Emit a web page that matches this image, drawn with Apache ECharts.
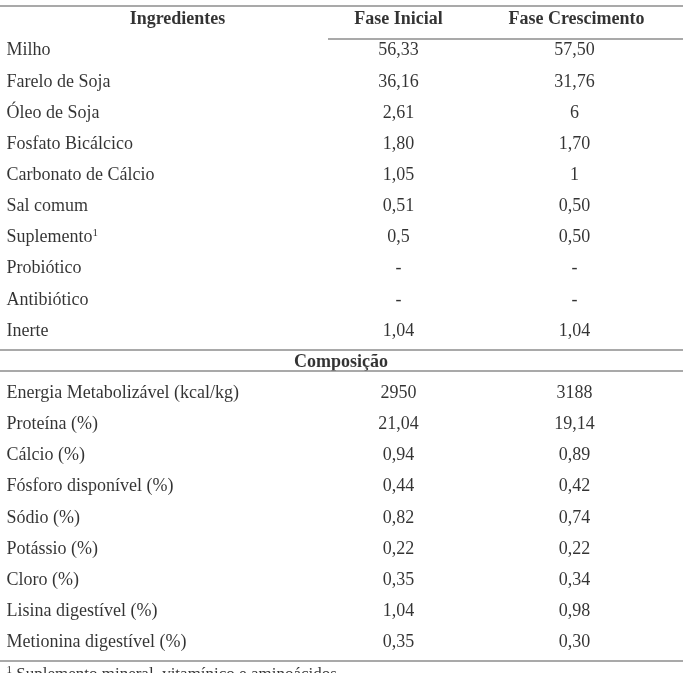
<!DOCTYPE html>
<html>
<head>
<meta charset="utf-8">
<script src="https://cdn.jsdelivr.net/npm/echarts@6/dist/echarts.min.js"></script>
<style>html,body{margin:0;padding:0;background:#fff}#c{width:683px;height:673px}</style>
</head>
<body>
<div id="c"></div>
<script>
// ---- data ----
var headers = ['Ingredientes', 'Fase Inicial', 'Fase Crescimento'];
var ingredientes = ['Milho','Farelo de Soja','Óleo de Soja','Fosfato Bicálcico','Carbonato de Cálcio','Sal comum','Suplemento{sup|1}','Probiótico','Antibiótico','Inerte'];
var ingInicial = ['56,33','36,16','2,61','1,80','1,05','0,51','0,5','-','-','1,04'];
var ingCrescimento = ['57,50','31,76','6','1,70','1','0,50','0,50','-','-','1,04'];
var secaoComposicao = 'Composição';
var composicao = ['Energia Metabolizável (kcal/kg)','Proteína (%)','Cálcio (%)','Fósforo disponível (%)','Sódio (%)','Potássio (%)','Cloro (%)','Lisina digestível (%)','Metionina digestível (%)'];
var compInicial = ['2950','21,04','0,94','0,44','0,82','0,22','0,35','1,04','0,35'];
var compCrescimento = ['3188','19,14','0,89','0,42','0,74','0,22','0,34','0,98','0,30'];
var nota = '{sup|1} Suplemento mineral, vitamínico e aminoácidos';

// ---- layout (not data) ----
var colX = [7, 399, 575];
var headerX = [178, 399, 577];
var midX = 341.5;
var pitch = 31.15;
var FONT = '"Liberation Serif", "Times New Roman", serif';
var FS = 18;

// build rows
var leftCol = [], midCol = [], rightCol = [], boldCells = [];
boldCells.push([headerX[0], 0, headers[0]]);
boldCells.push([headerX[1], 0, headers[1]]);
boldCells.push([headerX[2], 0, headers[2]]);
var r = 1;
ingredientes.forEach(function (n, i) {
  leftCol.push([colX[0], r, n]);
  midCol.push([colX[1], r, ingInicial[i]]);
  rightCol.push([colX[2], r, ingCrescimento[i]]);
  r++;
});
var compRow = r;
boldCells.push([midX, r, secaoComposicao]);
r++;
composicao.forEach(function (n, i) {
  leftCol.push([colX[0], r, n]);
  midCol.push([colX[1], r, compInicial[i]]);
  rightCol.push([colX[2], r, compCrescimento[i]]);
  r++;
});
var lastRow = r - 1;
var noteRow = lastRow + 1.02;

var rich = { sup: { fontSize: 11, fontFamily: FONT, color: '#000', padding: [0, 0, 8, 0] } };

function textSeries(data, align, bold, fs) {
  return {
    type: 'scatter', data: data, symbolSize: 1, clip: false,
    itemStyle: { color: 'rgba(0,0,0,0)' }, silent: true,
    label: {
      show: true, position: [0, 0], align: align, verticalAlign: 'middle',
      offset: [0, 2],
      color: '#000', fontFamily: FONT, fontSize: fs || FS,
      fontWeight: bold ? 'bold' : 'normal',
      formatter: function (p) { return p.value[2]; },
      rich: rich
    }
  };
}

var lineStyle = { color: '#8c8c8c', width: 1.6, type: 'solid' };
var rules = [
  { yAxis: -0.385 },
  [{ coord: [328, 0.67] }, { coord: [683, 0.67] }],
  { yAxis: compRow - 0.34 },
  { yAxis: compRow + 0.34 },
  { yAxis: lastRow + 0.64 }
];

var chart = echarts.init(document.getElementById('c'), null, { renderer: 'canvas' });
chart.setOption({
  animation: false,
  backgroundColor: '#fff',
  grid: { left: 0, right: 0, top: 18 - 0.5 * pitch, height: (lastRow + 1.3) * pitch, containLabel: false },
  xAxis: { type: 'value', min: 0, max: 683, show: false },
  yAxis: { type: 'value', min: -0.5, max: lastRow + 0.8, inverse: true, show: false },
  series: [
    textSeries(leftCol, 'left'),
    textSeries(midCol, 'center'),
    textSeries(rightCol, 'center'),
    textSeries(boldCells, 'center', true),
    textSeries([[colX[0], noteRow, nota]], 'left', false, 17),
    {
      type: 'line', data: [], silent: true, clip: false,
      markLine: { symbol: 'none', silent: true, label: { show: false }, lineStyle: lineStyle, data: rules }
    }
  ]
});
</script>
</body>
</html>
